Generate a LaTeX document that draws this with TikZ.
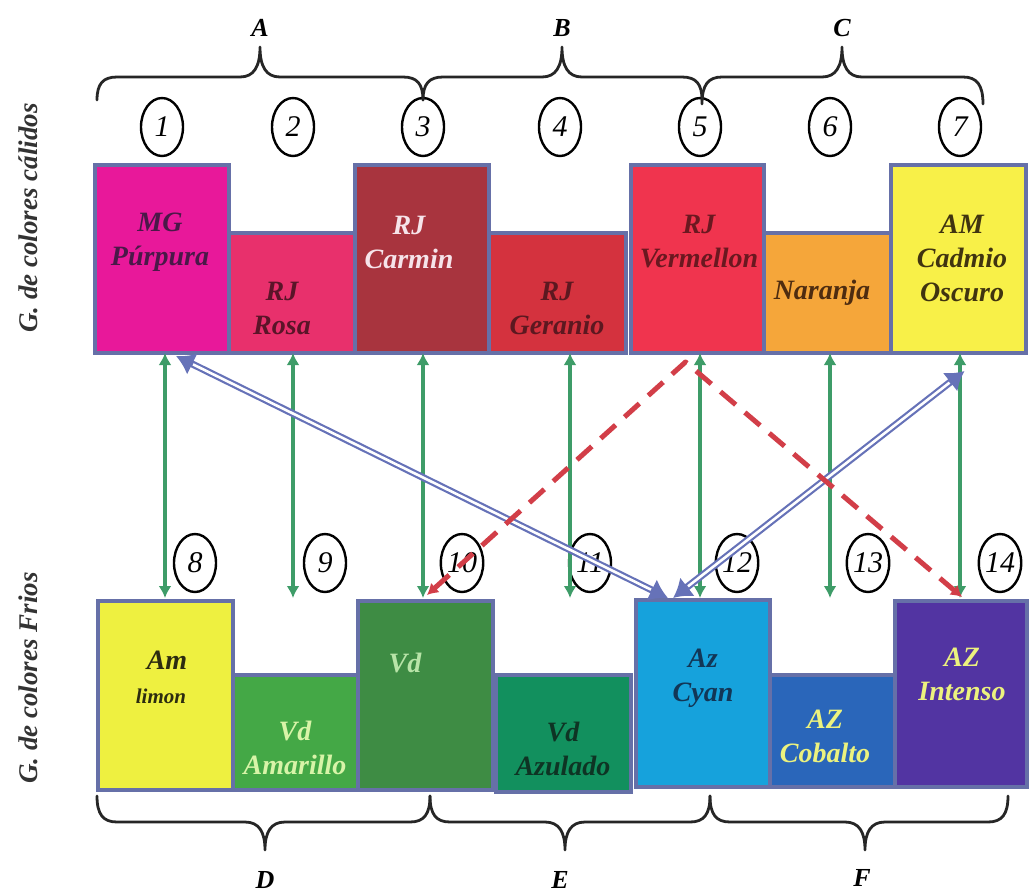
\documentclass[tikz,border=0pt]{standalone}
\usepackage{fontspec}
\setmainfont{Liberation Serif}
\usetikzlibrary{arrows.meta,shapes.geometric,calc}

% frame and swatch colours
\definecolor{frame}{HTML}{6670A8}
\definecolor{cPurpura}{HTML}{E8189A}
\definecolor{cRosa}{HTML}{E8306C}
\definecolor{cCarmin}{HTML}{A8343E}
\definecolor{cGeranio}{HTML}{D4323E}
\definecolor{cVermellon}{HTML}{F0344E}
\definecolor{cNaranja}{HTML}{F5A63A}
\definecolor{cCadmio}{HTML}{F8F048}
\definecolor{cLimon}{HTML}{EEF040}
\definecolor{cVdAm}{HTML}{44A846}
\definecolor{cVd}{HTML}{3E8C44}
\definecolor{cVdAz}{HTML}{12905E}
\definecolor{cCyan}{HTML}{16A2DC}
\definecolor{cCobalto}{HTML}{2A66BA}
\definecolor{cIntenso}{HTML}{5234A2}
% text colours
\definecolor{tPurpura}{HTML}{4A1848}
\definecolor{tRosa}{HTML}{5A1428}
\definecolor{tCarmin}{HTML}{F6E4EA}
\definecolor{tGeranio}{HTML}{5C1820}
\definecolor{tVermellon}{HTML}{6A1820}
\definecolor{tNaranja}{HTML}{4E2C10}
\definecolor{tCadmio}{HTML}{403410}
\definecolor{tLimon}{HTML}{2C2C10}
\definecolor{tVdAm}{HTML}{D8F4A8}
\definecolor{tVd}{HTML}{B8E4A8}
\definecolor{tVdAz}{HTML}{0E3424}
\definecolor{tCyan}{HTML}{123656}
\definecolor{tYellow}{HTML}{ECF27E}
\definecolor{side}{HTML}{333333}
% connector colours
\definecolor{linkgreen}{HTML}{3E9C68}
\definecolor{linkblue}{HTML}{6672B8}
\definecolor{linkred}{HTML}{D23E48}

% curly brace: x1, x2, xtip, yend, ybar, ytip
\newcommand\curlybrace[6]{%
  \draw[bracepen] (#1,#4) .. controls (#1,{#4+0.7*(#5-#4)}) and ({#1+6},#5) .. ({#1+20},#5)
    -- ({#3-20},#5) .. controls ({#3-6},#5) and (#3,{#5+0.35*(#6-#5)}) .. (#3,#6)
    .. controls (#3,{#5+0.35*(#6-#5)}) and ({#3+6},#5) .. ({#3+20},#5)
    -- ({#2-20},#5) .. controls ({#2-6},#5) and (#2,{#4+0.7*(#5-#4)}) .. (#2,#4);}

\tikzset{
  every node/.style={inner sep=0pt, outer sep=0pt},
  swatch/.style={draw=frame, line width=4pt, rectangle, anchor=north west},
  lbl/.style={font=\bfseries\itshape\fontsize{28}{34}\selectfont, align=center},
  num/.style={draw=black, line width=2.4pt, ellipse, minimum width=42pt, minimum height=58pt,
              font=\itshape\fontsize{30}{30}\selectfont},
  letter/.style={font=\bfseries\itshape\fontsize{26}{26}\selectfont},
  sidelbl/.style={font=\bfseries\itshape\fontsize{27}{27}\selectfont, text=side, rotate=90},
  bracepen/.style={draw=black!85, line width=2.8pt, line cap=round, line join=round},
  greenlink/.style={draw=linkgreen, line width=3.4pt,
                    {Latex[length=12pt,width=13pt]}-{Latex[length=12pt,width=13pt]}},
  % hollow double shaft with solid heads: a wide stroke, then a white core
  bluelink/.style={draw=linkblue, line width=7pt,
                   {Latex[length=18pt,width=24pt]}-{Latex[length=18pt,width=24pt]},
                   postaction={draw=white, line width=2.6pt, arrows=-,
                               shorten <=19pt, shorten >=19pt}},
  redlink/.style={draw=linkred, line width=5pt, dash pattern=on 20pt off 12pt, line join=round,
                  {Latex[length=11pt,width=13pt]}-{Latex[length=11pt,width=13pt]}},
}

\begin{document}
\begin{tikzpicture}[x=1pt,y=-1pt]
\useasboundingbox (0,0) rectangle (1030,895);
\fill[white] (0,0) rectangle (1030,895);

% warm group
\node[swatch, fill=cPurpura,   minimum width=134pt, minimum height=188pt] (p1) at (95,165) {};
\node[swatch, fill=cRosa,      minimum width=126pt, minimum height=120pt] (p2) at (229,233) {};
\node[swatch, fill=cCarmin,    minimum width=134pt, minimum height=188pt] (p3) at (355,165) {};
\node[swatch, fill=cGeranio,   minimum width=137pt, minimum height=120pt] (p4) at (489,233) {};
\node[swatch, fill=cVermellon, minimum width=133pt, minimum height=188pt] (p5) at (631,165) {};
\node[swatch, fill=cNaranja,   minimum width=127pt, minimum height=120pt] (p6) at (764,233) {};
\node[swatch, fill=cCadmio,    minimum width=135pt, minimum height=188pt] (p7) at (891,165) {};

\node[lbl, text=tPurpura]   (p1t) at (160,242) {MG\\Púrpura};
\node[lbl, text=tRosa]      (p2t) at (282,308) {RJ\\Rosa};
\node[lbl, text=tCarmin]    (p3t) at (409,242) {RJ\\Carmin};
\node[lbl, text=tGeranio]   (p4t) at (557,308) {RJ\\Geranio};
\node[lbl, text=tVermellon] (p5t) at (699,242) {RJ\\Vermellon};
\node[lbl, text=tNaranja]   (p6t) at (822,293) {Naranja};
\node[lbl, text=tCadmio]    (p7t) at (962,258) {AM\\Cadmio\\Oscuro};

% cool group
\node[swatch, fill=cLimon,   minimum width=135pt, minimum height=189pt] (b8)  at (98,601) {};
\node[swatch, fill=cVdAm,    minimum width=125pt, minimum height=115pt] (b9)  at (233,675) {};
\node[swatch, fill=cVd,      minimum width=135pt, minimum height=189pt] (b10) at (358,601) {};
\node[swatch, fill=cVdAz,    minimum width=135pt, minimum height=117pt] (b11) at (496,675) {};
\node[swatch, fill=cCyan,    minimum width=134pt, minimum height=187pt] (b12) at (636,600) {};
\node[swatch, fill=cCobalto, minimum width=125pt, minimum height=112pt] (b13) at (770,675) {};
\node[swatch, fill=cIntenso, minimum width=132pt, minimum height=186pt] (b14) at (895,601) {};

\node[lbl, text=tLimon]   (b8t)  at (161,677) {\hspace*{12pt}Am\\{\fontsize{21}{26}\selectfont limon}};
\node[lbl, text=tVdAm]    (b9t)  at (295,748) {Vd\\Amarillo};
\node[lbl, text=tVd]      (b10t) at (405,663) {Vd};
\node[lbl, text=tVdAz]    (b11t) at (563,749) {Vd\\Azulado};
\node[lbl, text=tCyan]    (b12t) at (703,678) {Az\\Cyan};
\node[lbl, text=tYellow]  (b13t) at (825,736) {AZ\\Cobalto};
\node[lbl, text=tYellow]  (b14t) at (962,674) {AZ\\Intenso};

% side titles
\node[sidelbl] (warm) at (28,218) {G. de colores cálidos};
\node[sidelbl] (cool) at (28,678) {G. de colores Frios};

% numbered ellipses
\node[num] (n1)  at (162,127) {1};
\node[num] (n2)  at (293,127) {2};
\node[num] (n3)  at (423,127) {3};
\node[num] (n4)  at (560,127) {4};
\node[num] (n5)  at (700,127) {5};
\node[num] (n6)  at (830,127) {6};
\node[num] (n7)  at (960,127) {7};
\node[num] (n8)  at (195,563) {8};
\node[num] (n9)  at (325,563) {9};
\node[num] (n10) at (462,563) {10};
\node[num] (n11) at (590,563) {11};
\node[num] (n12) at (737,563) {12};
\node[num] (n13) at (868,563) {13};
\node[num] (n14) at (1000,563) {14};

% braces and group letters
\curlybrace{97}{423}{260}{100}{77}{47}
\curlybrace{423}{702}{562}{100}{77}{47}
\curlybrace{702}{983}{842}{104}{77}{47}
\node[letter] (gA) at (260,28) {A};
\node[letter] (gB) at (562,28) {B};
\node[letter] (gC) at (842,28) {C};

\curlybrace{97}{430}{265}{796}{822}{850}
\curlybrace{430}{710}{565}{796}{822}{850}
\curlybrace{710}{1008}{865}{796}{822}{850}
\node[letter] (gD) at (265,880) {D};
\node[letter] (gE) at (560,880) {E};
\node[letter] (gF) at (862,878) {F};

% vertical complementary links
\coordinate (g1) at (165,598);
\coordinate (g2) at (293,598);
\coordinate (g3) at (423,598);
\coordinate (g4) at (570,598);
\coordinate (g5) at (700,598);
\coordinate (g6) at (830,598);
\coordinate (g7) at (960,598);
\draw[greenlink] (p1.south -| g1) -- (g1);
\draw[greenlink] (p2.south -| g2) -- (g2);
\draw[greenlink] (p3.south -| g3) -- (g3);
\draw[greenlink] (p4.south -| g4) -- (g4);
\draw[greenlink] (p5.south -| g5) -- (g5);
\draw[greenlink] (p6.south -| g6) -- (g6);
\draw[greenlink] (p7.south -| g7) -- (g7);

% crossing double links
\draw[bluelink] ($(p1.south)+(14,3)$) -- ($(b12.north)+(-35,-2)$);
\draw[bluelink] ($(b12.north)+(-30,-2)$) -- ($(p7.south)+(6,18)$);

% dashed links through the vermilion apex
\coordinate (apex) at ($(p5.south)+(-12,9)$);
\draw[redlink] ($(b10.north west)+(69,-6)$) -- (apex) -- ($(b14.north)+(1,-4)$);
\end{tikzpicture}
\end{document}
